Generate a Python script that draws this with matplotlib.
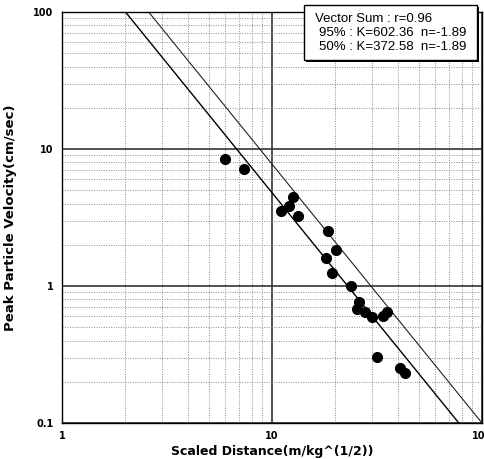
import numpy as np
import matplotlib.pyplot as plt
from matplotlib.patches import Rectangle
from matplotlib.ticker import LogLocator, NullFormatter, FixedLocator

# scaled distance vs peak particle velocity
sd = [5.95, 7.33, 12.6, 12.0, 10.98, 13.3, 18.5, 20.2, 18.0, 19.4,
      23.9, 26.0, 25.3, 27.7, 30.1, 33.6, 35.2, 31.5, 40.7, 42.9]
ppv = [8.41, 7.11, 4.48, 3.84, 3.55, 3.23, 2.53, 1.83, 1.60, 1.25,
       1.00, 0.764, 0.683, 0.646, 0.594, 0.607, 0.643, 0.305, 0.253, 0.232]

k95, k50, n_exp = 602.36, 372.58, -1.89
r_val = 0.96

W, H = 485, 459
fig = plt.figure(figsize=(W / 100, H / 100), dpi=100)
ax = fig.add_axes([62 / W, 1 - 423 / H, 420 / W, 411 / H])
ax.set_xscale('log')
ax.set_yscale('log')
ax.set_xlim(1, 100)
ax.set_ylim(0.1, 100)

# grid: solid at decades, dotted at minor
ax.xaxis.set_minor_locator(LogLocator(base=10, subs=np.arange(2, 10)))
ax.yaxis.set_minor_locator(LogLocator(base=10, subs=np.arange(2, 10)))
ax.xaxis.set_minor_formatter(NullFormatter())
ax.yaxis.set_minor_formatter(NullFormatter())
ax.grid(which='minor', color='#8a8a8a', linestyle=(0, (1, 1.5)), linewidth=0.7)
ax.grid(which='major', color='#333333', linestyle='-', linewidth=1.2)
ax.tick_params(which='both', length=0)

ax.xaxis.set_major_locator(FixedLocator([1, 10, 100]))
ax.yaxis.set_major_locator(FixedLocator([0.1, 1, 10, 100]))
ax.set_xticklabels(['1', '10', '100'], fontsize=7, fontweight='bold')
ax.set_yticklabels(['0.1', '1', '10', '100'], fontsize=7, fontweight='bold')
ax.tick_params(axis='x', pad=6)
ax.tick_params(axis='y', pad=6)

for s in ax.spines.values():
    s.set_color('black')
    s.set_linewidth(1.0)

xs = np.logspace(0, 2, 200)
ax.plot(xs, k50 * xs ** n_exp, color='black', linewidth=1.0)
ax.plot(xs, k95 * xs ** n_exp, color='#222222', linewidth=0.8)

ax.plot(sd, ppv, 'o', color='black', markersize=7, zorder=5)

ax.set_xlabel('Scaled Distance(m/kg^(1/2))', fontsize=9, fontweight='bold', labelpad=3)
ax.set_ylabel('Peak Particle Velocity(cm/sec)', fontsize=9.5, fontweight='bold', labelpad=12)

# fit summary box with drop shadow
bx0, by0, bx1, by1 = 304, 5, 477, 60
fig.patches.append(Rectangle(((bx0 + 2) / W, 1 - (by1 + 2) / H), (bx1 - bx0) / W, (by1 - by0) / H,
                             transform=fig.transFigure, facecolor='black', edgecolor='none', zorder=10))
fig.patches.append(Rectangle((bx0 / W, 1 - by1 / H), (bx1 - bx0) / W, (by1 - by0) / H,
                             transform=fig.transFigure, facecolor='white', edgecolor='black',
                             linewidth=1.0, zorder=11))
lines = ['Vector Sum : r=%.2f' % r_val,
         '95%% : K=%.2f  n=%.2f' % (k95, n_exp),
         '50%% : K=%.2f  n=%.2f' % (k50, n_exp)]
for i, (t, x0) in enumerate(zip(lines, [315, 319, 319])):
    fig.text(x0 / W, 1 - (19 + 14 * i) / H, t, ha='left', va='center', fontsize=9.5,
             family='Liberation Sans', zorder=12)

fig.savefig('out.png', dpi=100)
